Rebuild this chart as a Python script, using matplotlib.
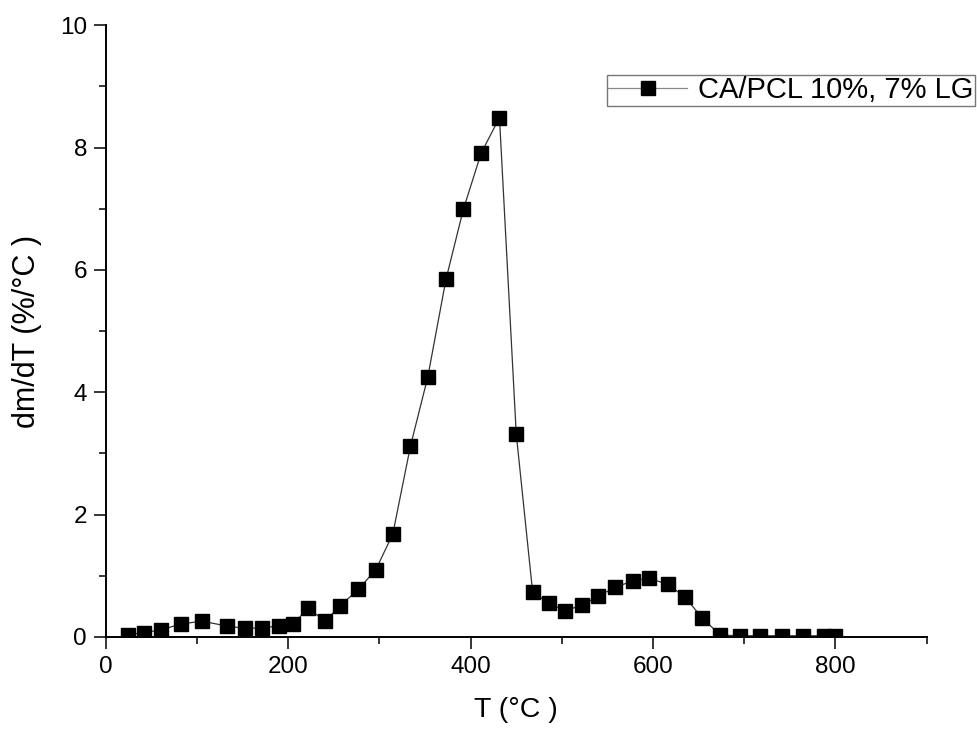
import matplotlib
matplotlib.use('Agg')
import matplotlib.pyplot as plt

plt.rcParams['font.family'] = ['Liberation Sans', 'DejaVu Sans']

temp = [24.5, 42, 61, 82, 105, 132.6, 152.7, 171.7, 190, 205.7, 222, 240.4, 257, 277,
        296, 314.6, 334, 353, 373, 392, 411.5, 431.6, 450, 468, 486, 503.7, 522, 540,
        558.5, 578, 596, 616, 634.5, 654, 673.7, 695.5, 717.4, 741, 764, 787, 800]
dmdt = [0.04, 0.07, 0.12, 0.21, 0.26, 0.18, 0.14, 0.15, 0.18, 0.22, 0.47, 0.26, 0.51, 0.78,
        1.10, 1.68, 3.12, 4.25, 5.85, 6.99, 7.91, 8.49, 3.32, 0.73, 0.55, 0.43, 0.52, 0.67,
        0.81, 0.92, 0.96, 0.86, 0.66, 0.31, 0.03, 0.02, 0.02, 0.02, 0.02, 0.02, 0.02]
rotulo = 'CA/PCL 10%, 7% LG'

fig = plt.figure(figsize=(9.77, 7.31), dpi=100)
ax = fig.add_axes([0.1083, 0.1286, 0.8402, 0.8368])

ax.plot(temp, dmdt, '-', color='#333333', lw=0.9, marker='s', ms=9.5,
        mfc='black', mec='black', label=rotulo)

ax.set_xlim(0, 900)
ax.set_ylim(0, 10)
ax.set_xticks([0, 200, 400, 600, 800])
ax.set_xticks([100, 300, 500, 700, 900], minor=True)
ax.set_yticks([0, 2, 4, 6, 8, 10])
ax.set_yticks([1, 3, 5, 7, 9], minor=True)

for s in ['top', 'right']:
    ax.spines[s].set_visible(False)
for s in ['left', 'bottom']:
    ax.spines[s].set_linewidth(1.4)

ax.tick_params(which='major', direction='out', length=8.5, width=1.1,
               labelsize=17.5, pad=5)
ax.tick_params(which='minor', direction='out', length=5, width=1.1)

ax.set_xlabel('T (°C )', fontsize=20.5, labelpad=14)
ax.set_ylabel('dm/dT (%/°C )', fontsize=22, labelpad=13)

leg = ax.legend(loc='upper right', bbox_to_anchor=(975 / 977, 1 - 75 / 731),
                bbox_transform=fig.transFigure, borderaxespad=0, fancybox=False,
                fontsize=21, handlelength=2.7, handletextpad=0.38, borderpad=0.05,
                markerscale=1.0)
leg.get_frame().set_edgecolor('#555555')
leg.get_frame().set_linewidth(1.0)
for h in leg.legend_handles:
    h.set_color('#888888')
    h.set_markerfacecolor('black')
    h.set_markeredgecolor('black')

fig.savefig('out.png', dpi=100)
